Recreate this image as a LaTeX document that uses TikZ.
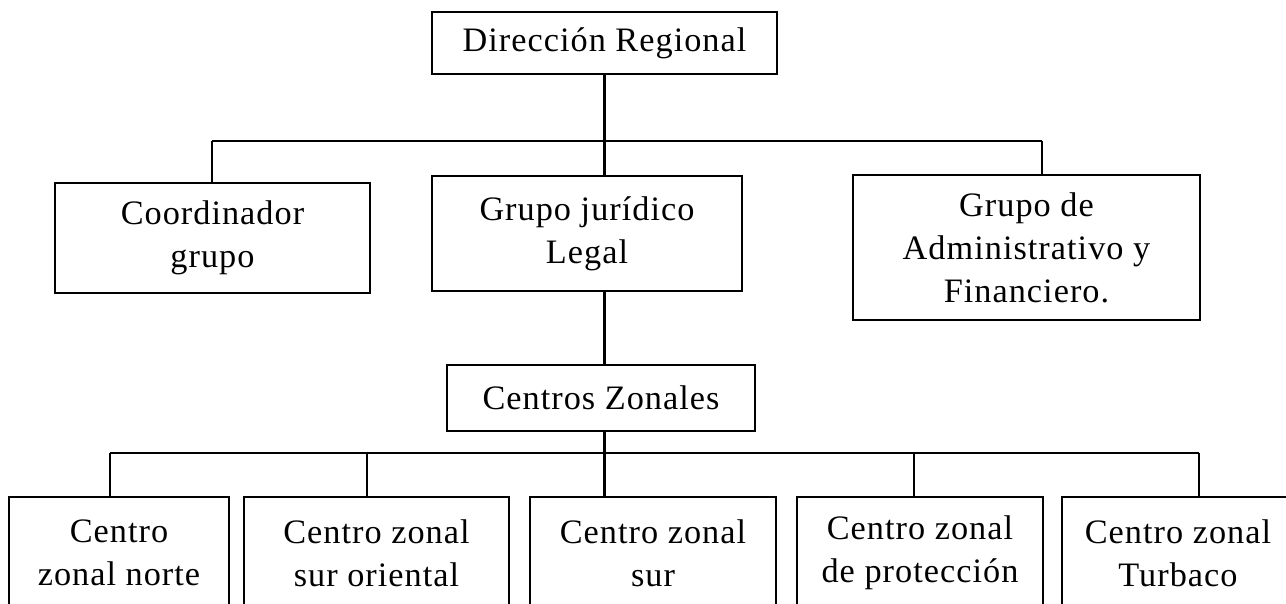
\documentclass[tikz,border=0pt]{standalone}
\usepackage{fontspec}
\setmainfont{Liberation Serif}[LetterSpace=3]
\begin{document}
\begin{tikzpicture}[x=0.02cm,y=-0.02cm,
  box/.style={draw, line width=1.3pt, inner sep=0pt, align=center,
    font=\fontsize{19.5pt}{24.5pt}\selectfont},
  link/.style={line width=1.3pt}]
\useasboundingbox (0,0) rectangle (1286,603);
\clip (0,0) rectangle (1286,603);
\node[box, minimum width=6.9cm, minimum height=1.24cm] (dir) at (604.5,43) {Dirección Regional};
\node[box, minimum width=6.3cm, minimum height=2.2cm] (coo) at (212.5,238) {Coordinador\\grupo};
\node[box, minimum width=6.2cm, minimum height=2.3cm] (jur) at (587,233.5) {Grupo jurídico\\Legal};
\node[box, minimum width=6.94cm, minimum height=2.9cm] (adm) at (1026.5,247.5) {Grupo de\\Administrativo y\\Financiero.};
\node[box, minimum width=6.16cm, minimum height=1.32cm] (cz) at (601,398) {Centros Zonales};
\node[box, minimum width=4.4cm, minimum height=2.24cm] (c1) at (119,553) {Centro\\zonal norte};
\node[box, minimum width=5.3cm, minimum height=2.24cm] (c2) at (376.5,553) {Centro zonal\\sur oriental};
\node[box, minimum width=4.92cm, minimum height=2.24cm] (c3) at (653,553) {Centro zonal\\sur};
\node[box, minimum width=4.92cm, minimum height=2.24cm] (c4) at (920,553) {Centro zonal\\de protección};
\node[box, minimum width=4.64cm, minimum height=2.24cm] (c5) at (1178,553) {Centro zonal\\Turbaco};
% upper tree
\coordinate (b1L) at (212,141);
\coordinate (b1R) at (1042,141);
\draw[link] (b1L) -- (b1R);
\draw[link] (b1L) -- (b1L |- coo.north);
\draw[link] (b1R) -- (b1R |- adm.north);
\draw[link] (dir.south) -- (dir.south |- jur.north);
\draw[link] (dir.south |- jur.south) -- (dir.south |- cz.north);
% lower tree
\coordinate (b2L) at (110,453);
\coordinate (b2R) at (1199,453);
\coordinate (d2) at (367,453);
\coordinate (d4) at (914,453);
\draw[link] (b2L) -- (b2R);
\draw[link] (dir.south |- cz.south) -- (dir.south |- c3.north);
\draw[link] (b2L) -- (b2L |- c1.north);
\draw[link] (d2) -- (d2 |- c2.north);
\draw[link] (d4) -- (d4 |- c4.north);
\draw[link] (b2R) -- (b2R |- c5.north);
\end{tikzpicture}
\end{document}
